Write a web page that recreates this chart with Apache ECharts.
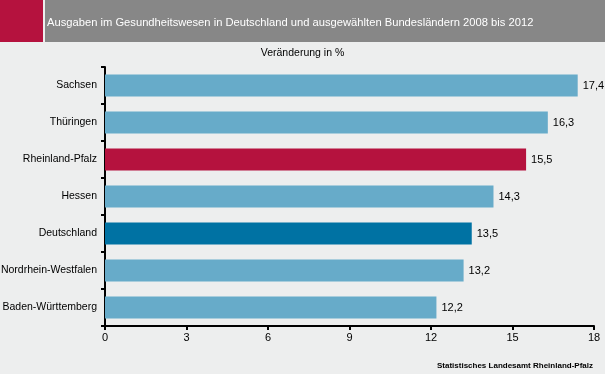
<!DOCTYPE html>
<html><head><meta charset="utf-8">
<script src="https://cdn.jsdelivr.net/npm/echarts@6/dist/echarts.min.js"></script>
<style>html,body{margin:0;padding:0;background:#edeeee;}#c{width:605px;height:374px;}</style>
</head><body><div id="c"></div>
<script>
const categories = ["Sachsen","Thüringen","Rheinland-Pfalz","Hessen","Deutschland","Nordrhein-Westfalen","Baden-Württemberg"];
const values = [17.4,16.3,15.5,14.3,13.5,13.2,12.2];
const barColors = ["#67abc9","#67abc9","#b5123e","#67abc9","#0072a3","#67abc9","#67abc9"];
const xTicks = [0,3,6,9,12,15,18];
const titleText = "Ausgaben im Gesundheitswesen in Deutschland und ausgewählten Bundesländern 2008 bis 2012";
const subtitleText = "Veränderung in %";
const sourceText = "Statistisches Landesamt Rheinland-Pfalz";

const chart = echarts.init(document.getElementById('c'), null, {renderer:'canvas'});
const font = 'Liberation Sans, Arial, sans-serif';
chart.setOption({
  backgroundColor:'#edeeee',
  animation:false,
  graphic:[
    {type:'rect', left:0, top:0, shape:{width:43,height:42}, style:{fill:'#b5123e'}},
    {type:'rect', left:45, top:0, shape:{width:560,height:42}, style:{fill:'#878787'}},
    {type:'text', left:47, top:17, style:{text:titleText, fill:'#ffffff', font:'11.2px '+font}},
    {type:'text', left:'center', top:48, style:{text:subtitleText, fill:'#000', font:'10.5px '+font}},
    {type:'text', right:12, top:362, style:{text:sourceText, fill:'#000', font:'bold 8px '+font}}
  ],
  grid:{left:105, right:11, top:67, bottom:48, outerBoundsMode:'none', containLabel:false},
  xAxis:{type:'value', min:xTicks[0], max:xTicks[xTicks.length-1], interval:3,
    axisLine:{show:true, lineStyle:{color:'#000', width:2}},
    axisTick:{show:true, length:4, lineStyle:{color:'#000', width:2}},
    splitLine:{show:false},
    axisLabel:{color:'#000', fontSize:11, fontFamily:font, margin:6}},
  yAxis:{type:'category', data:categories, inverse:true,
    axisLine:{show:true, lineStyle:{color:'#000', width:2}},
    axisTick:{show:true, length:4, lineStyle:{color:'#000', width:2}},
    axisLabel:{color:'#000', fontSize:10.5, fontFamily:font, margin:8}},
  series:[{type:'bar', barCategoryGap:'41%',
    data:values.map((v,i)=>({value:v, itemStyle:{color:barColors[i]}})),
    label:{show:true, position:'right', distance:5, color:'#000', fontSize:11, fontFamily:font,
      formatter:p=>String(p.value).replace('.',',')}}]
});
</script></body></html>
